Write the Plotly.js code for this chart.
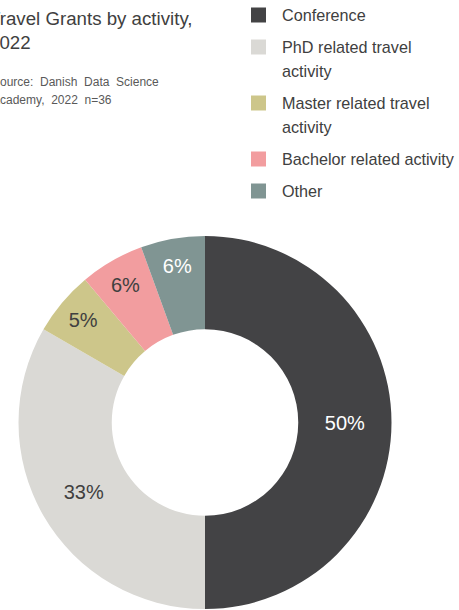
<!DOCTYPE html>
<html>
<head>
<meta charset="utf-8">
<script src="https://cdn.plot.ly/plotly-3.0.1.min.js"></script>
<style>
  html, body { margin: 0; padding: 0; background: #ffffff; }
  #chart { width: 459px; height: 610px; }
</style>
</head>
<body>
<div id="chart"></div>
<script>
// ---- Data ----
const categories = [
  'Conference',
  'PhD related travel<br>activity',
  'Master related travel<br>activity',
  'Bachelor related activity',
  'Other'
];
const grantCounts = [18, 12, 2, 2, 2];          // n = 36
const percentLabels = ['50%', '33%', '5%', '6%', '6%'];
const sliceColors = ['#434345', '#DAD9D5', '#CDC68A', '#F29D9F', '#809593'];
const labelColors = ['#ffffff', '#404040', '#404040', '#404040', '#ffffff'];
const titleLines = ['Travel Grants by activity,<br>2022'];
const sourceLines = ['Source:\u00a0 Danish\u00a0 Data\u00a0 Science', 'Academy,\u00a0 2022\u00a0 n=36'];

// ---- Layout helpers ----
const W = 459, H = 610;
const FONT = 'Liberation Sans, Arial, Helvetica, sans-serif';
const px = v => v / W;
const py = v => 1 - v / H;

const cx = 205, cy = 422.5, R = 186.5;

const annotations = [];
const shapes = [];

// Title
annotations.push({
  xref: 'paper', yref: 'paper', x: px(-13), y: py(30),
  xanchor: 'left', yanchor: 'middle', align: 'left', showarrow: false,
  text: titleLines[0],
  font: { family: FONT, size: 18.7, color: '#404040' }
});
// Source lines
sourceLines.forEach((s, i) => {
  annotations.push({
    xref: 'paper', yref: 'paper', x: px(-10), y: py(82 + 18 * i),
    xanchor: 'left', yanchor: 'middle', align: 'left', showarrow: false,
    text: s,
    font: { family: FONT, size: 12, color: '#595959' }
  });
});

// Legend (built from categories and colours)
let ly = 15;
categories.forEach((lab, i) => {
  const lines = lab.split('<br>');
  shapes.push({
    type: 'rect', xref: 'paper', yref: 'paper',
    x0: px(251), x1: px(266), y0: py(ly + 7.5), y1: py(ly - 7.5),
    fillcolor: sliceColors[i], line: { width: 0 }
  });
  lines.forEach((ln, j) => {
    annotations.push({
      xref: 'paper', yref: 'paper', x: px(280), y: py(ly + 24 * j),
      xanchor: 'left', yanchor: 'middle', align: 'left', showarrow: false,
      text: ln,
      font: { family: FONT, size: 16.2, color: '#404040' }
    });
  });
  ly += 32 + 24 * (lines.length - 1);
});

const trace = {
  type: 'pie',
  labels: categories,
  values: grantCounts,
  text: percentLabels,
  textinfo: 'text',
  textposition: 'inside',
  insidetextorientation: 'horizontal',
  insidetextfont: { family: FONT, size: 20, color: labelColors },
  hole: 0.5,
  sort: false,
  direction: 'clockwise',
  rotation: 0,
  marker: { colors: sliceColors, line: { width: 0 } },
  domain: { x: [px(cx - R), px(cx + R)], y: [py(cy + R), py(cy - R)] },
  showlegend: false,
  hoverinfo: 'label+value+text'
};

const layout = {
  width: W, height: H,
  margin: { l: 0, r: 0, t: 0, b: 0 },
  paper_bgcolor: '#ffffff',
  plot_bgcolor: '#ffffff',
  showlegend: false,
  font: { family: FONT, color: '#404040' },
  annotations: annotations,
  shapes: shapes
};

Plotly.newPlot('chart', [trace], layout, { displayModeBar: false, staticPlot: true });
</script>
</body>
</html>
